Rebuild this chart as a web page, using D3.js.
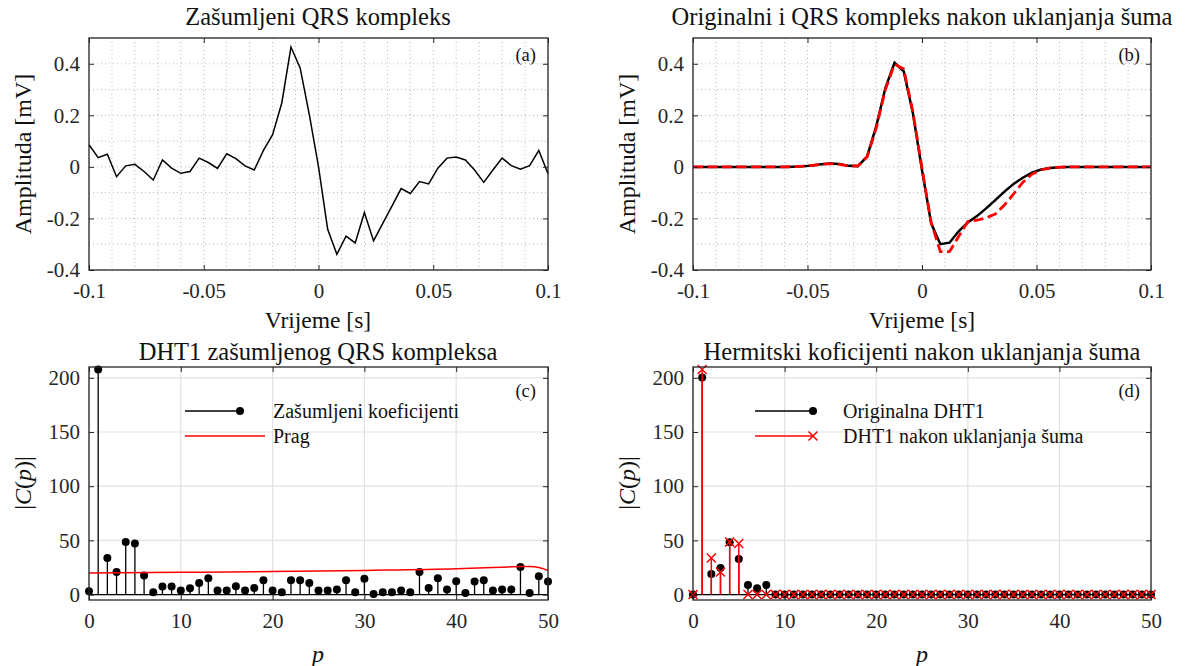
<!DOCTYPE html>
<html>
<head>
<meta charset="utf-8">
<script src="https://cdn.jsdelivr.net/npm/d3@7"></script>
<style>
  body { margin: 0; background: #fff; }
  svg { display: block; }
</style>
</head>
<body>
<svg id="fig" width="1191" height="666"></svg>
<script>
// sample times of the QRS segment [s]
var tSec = [-0.100, -0.096, -0.092, -0.088, -0.084, -0.080, -0.076, -0.072, -0.068, -0.064,
            -0.060, -0.056, -0.052, -0.048, -0.044, -0.040, -0.036, -0.032, -0.028, -0.024,
            -0.020, -0.016, -0.012, -0.008, -0.004, 0.000, 0.004, 0.008, 0.012, 0.016,
            0.020, 0.024, 0.028, 0.032, 0.036, 0.040, 0.044, 0.048, 0.052, 0.056,
            0.060, 0.064, 0.068, 0.072, 0.076, 0.080, 0.084, 0.088, 0.092, 0.096, 0.100];

// (a) noisy QRS [mV]
var noisyQrs = [0.086, 0.036, 0.049, -0.038, 0.004, 0.010, -0.018, -0.051, 0.027, -0.005,
                -0.025, -0.018, 0.034, 0.017, -0.006, 0.051, 0.032, 0.004, -0.012, 0.064,
                0.125, 0.248, 0.465, 0.384, 0.203, 0.001, -0.242, -0.339, -0.269, -0.295,
                -0.177, -0.287, -0.219, -0.152, -0.084, -0.103, -0.057, -0.066, -0.005, 0.034,
                0.038, 0.027, -0.012, -0.060, -0.012, 0.034, 0.005, -0.009, 0.005, 0.064, -0.027];

// (b) original and denoised QRS [mV]
var origQrs = [0, 0, 0, 0, 0, 0, 0, 0, 0, 0,
               0, 0.001, 0.002, 0.005, 0.010, 0.013, 0.011, 0.004, 0.003, 0.040,
               0.157, 0.306, 0.404, 0.371, 0.209, -0.012, -0.219, -0.300, -0.294, -0.250,
               -0.216, -0.191, -0.161, -0.129, -0.096, -0.066, -0.042, -0.022, -0.010, -0.004,
               -0.001, 0, 0, 0, 0, 0, 0, 0, 0, 0, 0];
var denoisedQrs = [0, 0, 0, 0, 0, 0, 0, 0, 0, 0,
                   0, 0.001, 0.003, 0.006, 0.010, 0.013, 0.010, 0.003, 0.004, 0.038,
                   0.150, 0.300, 0.398, 0.380, 0.215, -0.005, -0.215, -0.329, -0.329, -0.270,
                   -0.212, -0.207, -0.198, -0.183, -0.148, -0.105, -0.060, -0.028, -0.012, -0.004,
                   -0.001, 0, 0, 0, 0, 0, 0, 0, 0, 0, 0];

// (c) |C(p)| of the noisy complex, p = 0..50
var noisyCoef = [3.0, 207.7, 33.7, 20.9, 48.5, 47.2, 17.5, 2.1, 7.4, 7.4,
                 3.7, 5.8, 10.7, 15.0, 3.7, 3.7, 7.7, 3.7, 6.1, 13.2,
                 3.7, 2.1, 13.2, 13.2, 10.7, 3.7, 3.7, 4.6, 13.2, 2.1,
                 14.7, 0.5, 2.1, 2.1, 3.7, 2.1, 20.9, 6.1, 15.0, 4.6,
                 12.3, 1.5, 12.0, 13.2, 3.7, 4.6, 4.6, 25.5, 1.5, 16.9, 12.0];
var threshP = [0, 10, 20, 30, 40, 46, 47, 48, 49, 50];
var threshVal = [19.9, 20.5, 21.2, 22.3, 23.8, 25.6, 25.9, 25.8, 24.9, 22.2];

// (d) original DHT1 and DHT1 after denoising
var origCoef = [0, 200.3, 19.0, 24.5, 48.2, 32.8, 8.9, 5.8, 8.9, 0,
                0, 0, 0, 0, 0, 0, 0, 0, 0, 0,
                0, 0, 0, 0, 0, 0, 0, 0, 0, 0,
                0, 0, 0, 0, 0, 0, 0, 0, 0, 0,
                0, 0, 0, 0, 0, 0, 0, 0, 0, 0, 0];
var cleanCoef = [0, 207.7, 33.7, 20.9, 48.5, 47.2, 0, 0, 0, 0,
                 0, 0, 0, 0, 0, 0, 0, 0, 0, 0,
                 0, 0, 0, 0, 0, 0, 0, 0, 0, 0,
                 0, 0, 0, 0, 0, 0, 0, 0, 0, 0,
                 0, 0, 0, 0, 0, 0, 0, 0, 0, 0, 0];

var xTicksTime = [-0.1, -0.05, 0, 0.05, 0.1];
var yTicksAmp = [-0.4, -0.2, 0, 0.2, 0.4];
var xTicksP = [0, 10, 20, 30, 40, 50];
var yTicksC = [0, 50, 100, 150, 200];

var FONT = '"Liberation Serif", "Times New Roman", serif';
var AXC = "#262626";
var svg = d3.select("#fig");

function makeAxes(box, xDom, yDom, xt, yt, gridType) {
	var x = d3.scaleLinear().domain(xDom).range([box.l, box.r]);
	var y = d3.scaleLinear().domain(yDom).range([box.b, box.t]);
	var g = svg.append("g");
	var grid = g.append("g");
	if (gridType == "minor") {
		grid.selectAll(".gx").data(x.ticks(20)).enter().append("line")
			.attr("x1", function(d){ return x(d); }).attr("x2", function(d){ return x(d); })
			.attr("y1", box.t).attr("y2", box.b);
		grid.selectAll(".gy").data(y.ticks(9)).enter().append("line")
			.attr("y1", function(d){ return y(d); }).attr("y2", function(d){ return y(d); })
			.attr("x1", box.l).attr("x2", box.r);
		grid.attr("stroke", "#b8b8b8").attr("stroke-width", 1).attr("stroke-dasharray", "1,3");
	} else {
		grid.selectAll(".gx").data(xt).enter().append("line")
			.attr("x1", function(d){ return x(d); }).attr("x2", function(d){ return x(d); })
			.attr("y1", box.t).attr("y2", box.b);
		grid.selectAll(".gy").data(yt).enter().append("line")
			.attr("y1", function(d){ return y(d); }).attr("y2", function(d){ return y(d); })
			.attr("x1", box.l).attr("x2", box.r);
		grid.attr("stroke", "#e1e1e1").attr("stroke-width", 1.2);
	}
	var data = g.append("g");
	var tl = 5, fmt = function(d){ return String(d); };
	var axes = [
		[d3.axisBottom(x).tickValues(xt).tickFormat(fmt).tickPadding(13), "translate(0," + box.b + ")"],
		[d3.axisTop(x).tickValues(xt).tickFormat(""), "translate(0," + box.t + ")"],
		[d3.axisLeft(y).tickValues(yt).tickFormat(fmt).tickPadding(9), "translate(" + box.l + ",0)"],
		[d3.axisRight(y).tickValues(yt).tickFormat(""), "translate(" + box.r + ",0)"]
	];
	axes.forEach(function(a){
		var ag = g.append("g").attr("transform", a[1])
			.call(a[0].tickSizeInner(-tl).tickSizeOuter(0));
		ag.select(".domain").remove();
		ag.attr("font-family", FONT).attr("font-size", 21).attr("color", AXC);
		ag.selectAll("line").attr("stroke-width", 1);
	});
	g.append("rect").attr("x", box.l).attr("y", box.t)
		.attr("width", box.r - box.l).attr("height", box.b - box.t)
		.attr("fill", "none").attr("stroke", AXC).attr("stroke-width", 1.3);
	return {x: x, y: y, g: g, data: data, box: box};
}

function addText(g, x, y, txt, size, anchor) {
	return g.append("text").attr("x", x).attr("y", y).text(txt)
		.attr("font-family", FONT).attr("font-size", size)
		.attr("text-anchor", anchor || "middle").attr("fill", "#111");
}

function yLabel(g, cx, cy) {
	return g.append("text").attr("transform", "translate(" + cx + "," + cy + ")rotate(-90)")
		.attr("dy", "0.35em").attr("text-anchor", "middle")
		.attr("font-family", FONT).attr("font-size", 24).attr("fill", "#111");
}

function xMark(sel, s) {
	return sel.append("path").attr("d", "M" + (-s) + "," + (-s) + "L" + s + "," + s + "M" + (-s) + "," + s + "L" + s + "," + (-s))
		.attr("stroke", "#ff0000").attr("stroke-width", 1.5).attr("fill", "none");
}

var boxA = {l: 89, r: 548, t: 38, b: 270};
var boxB = {l: 693, r: 1151, t: 38, b: 270};
var boxC = {l: 89, r: 548, t: 367, b: 600};
var boxD = {l: 693, r: 1151, t: 367, b: 600};

// ---------- (a)
var A = makeAxes(boxA, [-0.1, 0.1], [-0.4, 0.5], xTicksTime, yTicksAmp, "minor");
A.data.append("path").datum(noisyQrs)
	.attr("d", d3.line().x(function(d, i){ return A.x(tSec[i]); }).y(function(d){ return A.y(d); }))
	.attr("fill", "none").attr("stroke", "#000").attr("stroke-width", 1.5);
addText(A.g, 318, 25, "Zašumljeni QRS kompleks", 24.5);
addText(A.g, 318, 328, "Vrijeme [s]", 23.5);
yLabel(A.g, 23, 154).text("Amplituda [mV]");
addText(A.g, 536, 61, "(a)", 18.5, "end");

// ---------- (b)
var B = makeAxes(boxB, [-0.1, 0.1], [-0.4, 0.5], xTicksTime, yTicksAmp, "minor");
var lineB = d3.line().x(function(d, i){ return B.x(tSec[i]); }).y(function(d){ return B.y(d); });
B.data.append("path").datum(origQrs).attr("d", lineB)
	.attr("fill", "none").attr("stroke", "#000").attr("stroke-width", 2.5);
B.data.append("path").datum(denoisedQrs).attr("d", lineB)
	.attr("fill", "none").attr("stroke", "#ff0000").attr("stroke-width", 2.8)
	.attr("stroke-dasharray", "10,4.5");
addText(B.g, 922, 25, "Originalni i QRS kompleks nakon uklanjanja šuma", 24.5);
addText(B.g, 922, 328, "Vrijeme [s]", 23.5);
yLabel(B.g, 627, 154).text("Amplituda [mV]");
addText(B.g, 1140, 61, "(b)", 18.5, "end");

// ---------- (c)
var C = makeAxes(boxC, [0, 50], [-5, 210], xTicksP, yTicksC, "major");
C.data.selectAll(".stem").data(noisyCoef).enter().append("line")
	.attr("x1", function(d, i){ return C.x(i); }).attr("x2", function(d, i){ return C.x(i); })
	.attr("y1", C.y(0)).attr("y2", function(d){ return C.y(d); })
	.attr("stroke", "#000").attr("stroke-width", 1.3);
C.data.append("line").attr("x1", C.x(0)).attr("x2", C.x(50)).attr("y1", C.y(0)).attr("y2", C.y(0))
	.attr("stroke", "#000").attr("stroke-width", 1.3);
C.data.selectAll(".dot").data(noisyCoef).enter().append("circle")
	.attr("cx", function(d, i){ return C.x(i); }).attr("cy", function(d){ return C.y(d); })
	.attr("r", 4).attr("fill", "#000");
C.data.append("path").datum(threshVal)
	.attr("d", d3.line().curve(d3.curveMonotoneX).x(function(d, i){ return C.x(threshP[i]); }).y(function(d){ return C.y(d); }))
	.attr("fill", "none").attr("stroke", "#ff0000").attr("stroke-width", 1.5);
var legC = C.g.append("g");
legC.append("line").attr("x1", 185).attr("x2", 240).attr("y1", 411).attr("y2", 411).attr("stroke", "#000").attr("stroke-width", 1.3);
legC.append("circle").attr("cx", 240).attr("cy", 411).attr("r", 4).attr("fill", "#000");
legC.append("line").attr("x1", 185).attr("x2", 265).attr("y1", 436).attr("y2", 436).attr("stroke", "#ff0000").attr("stroke-width", 1.5);
addText(legC, 273, 411, "Zašumljeni koeficijenti", 20, "start").attr("dy", "0.35em");
addText(legC, 273, 436, "Prag", 20, "start").attr("dy", "0.35em");
addText(C.g, 318, 360, "DHT1 zašumljenog QRS kompleksa", 24.5);
addText(C.g, 318, 662, "p", 24).attr("font-style", "italic");
var lc = yLabel(C.g, 23, 483);
lc.append("tspan").text("|");
lc.append("tspan").text("C").attr("font-style", "italic");
lc.append("tspan").text("(");
lc.append("tspan").text("p").attr("font-style", "italic");
lc.append("tspan").text(")|");
addText(C.g, 536, 397, "(c)", 18.5, "end");

// ---------- (d)
var D = makeAxes(boxD, [0, 50], [-5, 210], xTicksP, yTicksC, "major");
D.data.selectAll(".stemO").data(origCoef).enter().append("line")
	.attr("x1", function(d, i){ return D.x(i); }).attr("x2", function(d, i){ return D.x(i); })
	.attr("y1", D.y(0)).attr("y2", function(d){ return D.y(d); })
	.attr("stroke", "#000").attr("stroke-width", 1.3);
D.data.append("line").attr("x1", D.x(0)).attr("x2", D.x(50)).attr("y1", D.y(0)).attr("y2", D.y(0))
	.attr("stroke", "#000").attr("stroke-width", 1.3);
D.data.selectAll(".dotO").data(origCoef).enter().append("circle")
	.attr("cx", function(d, i){ return D.x(i); }).attr("cy", function(d){ return D.y(d); })
	.attr("r", 4).attr("fill", "#000");
D.data.selectAll(".stemC").data(cleanCoef).enter().append("line")
	.attr("x1", function(d, i){ return D.x(i); }).attr("x2", function(d, i){ return D.x(i); })
	.attr("y1", D.y(0)).attr("y2", function(d){ return D.y(d); })
	.attr("stroke", "#ff0000").attr("stroke-width", 1.5);
D.data.selectAll(".mk").data(cleanCoef).enter().append("g")
	.attr("transform", function(d, i){ return "translate(" + D.x(i) + "," + D.y(d) + ")"; })
	.each(function(){ xMark(d3.select(this), 4.5); });
var legD = D.g.append("g");
legD.append("line").attr("x1", 755).attr("x2", 813).attr("y1", 411).attr("y2", 411).attr("stroke", "#000").attr("stroke-width", 1.3);
legD.append("circle").attr("cx", 813).attr("cy", 411).attr("r", 4).attr("fill", "#000");
legD.append("line").attr("x1", 755).attr("x2", 813).attr("y1", 436).attr("y2", 436).attr("stroke", "#ff0000").attr("stroke-width", 1.5);
xMark(legD.append("g").attr("transform", "translate(813,436)"), 4.5);
addText(legD, 843, 411, "Originalna DHT1", 20, "start").attr("dy", "0.35em");
addText(legD, 843, 436, "DHT1 nakon uklanjanja šuma", 20, "start").attr("dy", "0.35em");
addText(D.g, 922, 360, "Hermitski koficijenti nakon uklanjanja šuma", 24.5);
addText(D.g, 922, 662, "p", 24).attr("font-style", "italic");
var ld = yLabel(D.g, 627, 483);
ld.append("tspan").text("|");
ld.append("tspan").text("C").attr("font-style", "italic");
ld.append("tspan").text("(");
ld.append("tspan").text("p").attr("font-style", "italic");
ld.append("tspan").text(")|");
addText(D.g, 1140, 397, "(d)", 18.5, "end");
</script>
</body>
</html>
